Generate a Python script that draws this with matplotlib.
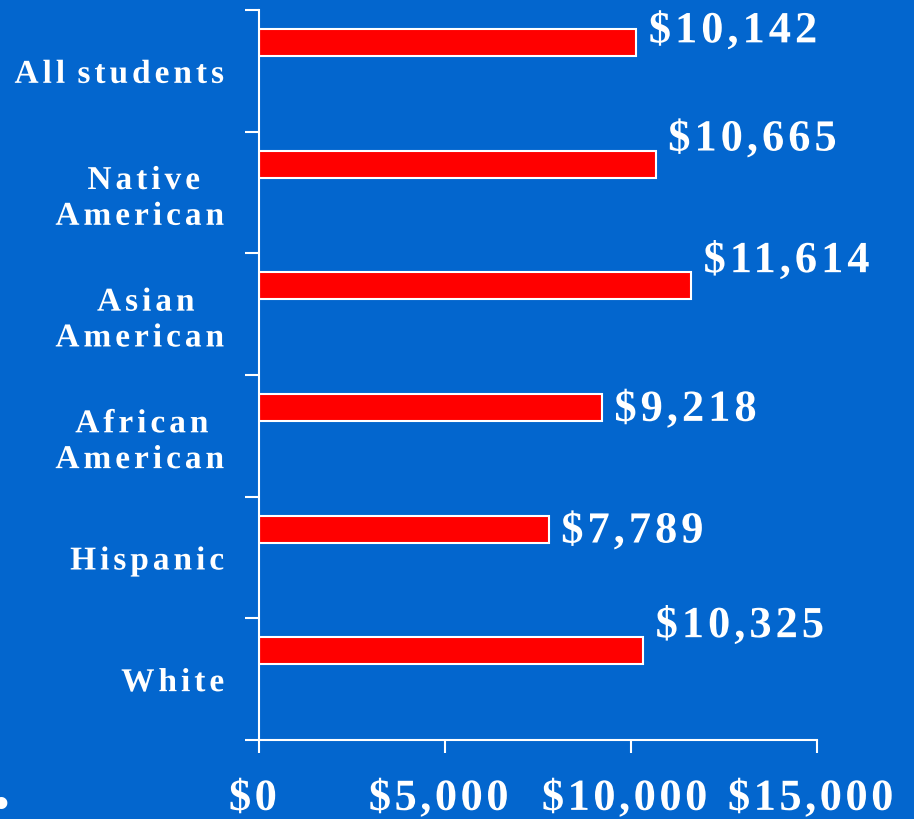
import matplotlib
matplotlib.use("Agg")
import matplotlib.pyplot as plt
import numpy as np
from matplotlib.path import Path
from matplotlib.transforms import IdentityTransform
from matplotlib.patheffects import AbstractPathEffect

categories = ["All students", "Native\nAmerican", "Asian\nAmerican", "African\nAmerican", "Hispanic", "White"]
values = [10142, 10665, 11614, 9218, 7789, 10325]
value_labels = ["$10,142", "$10,665", "$11,614", "$9,218", "$7,789", "$10,325"]
xticks = [0, 5000, 10000, 15000]
xtick_labels = ["$0", "$5,000", "$10,000", "$15,000"]

# layout: vertical placement of each value label's baseline, in bar heights from bar centre
label_dy = [0.0, -0.5, -0.5, 0.5, 0.5, -0.5]

BG = "#0366CE"
FONT = "Liberation Serif"


class LetterSpacing(AbstractPathEffect):
    """Adds extra space (pixels) between glyphs of a text path."""

    def __init__(self, spacing=4.0, align=0.0, dx=0.0):
        super().__init__()
        self.spacing = spacing
        self.align = align
        self.dx = dx

    def draw_path(self, renderer, gc, tpath, affine, rgbFace=None):
        codes = tpath.codes
        if codes is None or len(codes) == 0:
            renderer.draw_path(gc, tpath, affine, rgbFace)
            return
        verts = affine.transform(tpath.vertices)
        new = verts.copy()
        starts = list(np.where(codes == Path.MOVETO)[0])
        ends = starts[1:] + [len(codes)]
        group = -1
        gmin = gmax = None
        for s, e in zip(starts, ends):
            valid = (codes[s:e] != Path.CLOSEPOLY) & (codes[s:e] != Path.STOP)
            if not valid.any():
                continue
            xs = verts[s:e][valid, 0]
            xmin, xmax = xs.min(), xs.max()
            cx = 0.5 * (xmin + xmax)
            if group < 0 or not (gmin - 0.5 <= cx <= gmax + 0.5):
                group += 1
                gmin, gmax = xmin, xmax
            else:
                gmin, gmax = min(gmin, xmin), max(gmax, xmax)
            new[s:e, 0] += group * self.spacing
        new[:, 0] += self.dx - self.align * max(group, 0) * self.spacing
        renderer.draw_path(gc, Path(new, codes), IdentityTransform(), rgbFace)


fig = plt.figure(figsize=(9.14, 8.19), dpi=100, facecolor=BG)
ax = fig.add_axes([259/914, 1-740/819, (817-259)/914, (740-10)/819])
ax.set_facecolor(BG)

n = len(categories)
pos = np.arange(n)
bar_off = 0.234
bar_h = 0.222
ax.barh(pos - bar_off, values, height=bar_h, color="#FF0000", edgecolor="white", linewidth=1.5)

ax.set_xlim(0, 15000)
ax.set_ylim(n - 0.5, -0.5)

for p, v, lab, dy in zip(pos, values, value_labels, label_dy):
    t = ax.annotate(lab, xy=(v, p - bar_off + dy * bar_h), xytext=(9, 0), textcoords="offset points",
                    ha="left", va="baseline", color="white", fontsize=32,
                    fontweight="bold", family=FONT)
    t.set_path_effects([LetterSpacing(4.0, 0.0)])

# y: major ticks at band boundaries, labels at centers (minor)
ax.set_yticks(np.arange(-0.5, n, 1.0))
ax.set_yticklabels([])
ax.set_yticks(pos, minor=True)
ax.set_yticklabels(categories, minor=True, fontsize=24, fontweight="bold",
                   family=FONT, color="white", multialignment="center")
ax.tick_params(axis="y", which="major", direction="out", length=10, width=1.5, color="white")
ax.tick_params(axis="y", which="minor", length=0, pad=25)

ax.set_xticks(xticks)
ax.set_xticklabels(xtick_labels, fontsize=32, fontweight="bold", family=FONT, color="white")
ax.tick_params(axis="x", direction="out", length=9, width=1.5, color="white", pad=19)

for tk in ax.yaxis.get_minor_ticks():
    tk.label1.set_path_effects([LetterSpacing(4.0, 1.0)])
for tk in ax.xaxis.get_major_ticks():
    tk.label1.set_path_effects([LetterSpacing(3.5, 0.5, -6.0)])

for s in ["top", "right"]:
    ax.spines[s].set_visible(False)
for s in ["left", "bottom"]:
    ax.spines[s].set_color("white")
    ax.spines[s].set_linewidth(1.5)

fig.text(-0.012, -0.011, "\u2022", color="white", fontsize=30, family="DejaVu Sans",
         ha="left", va="bottom")

fig.savefig("out.png", dpi=100, facecolor=BG)
